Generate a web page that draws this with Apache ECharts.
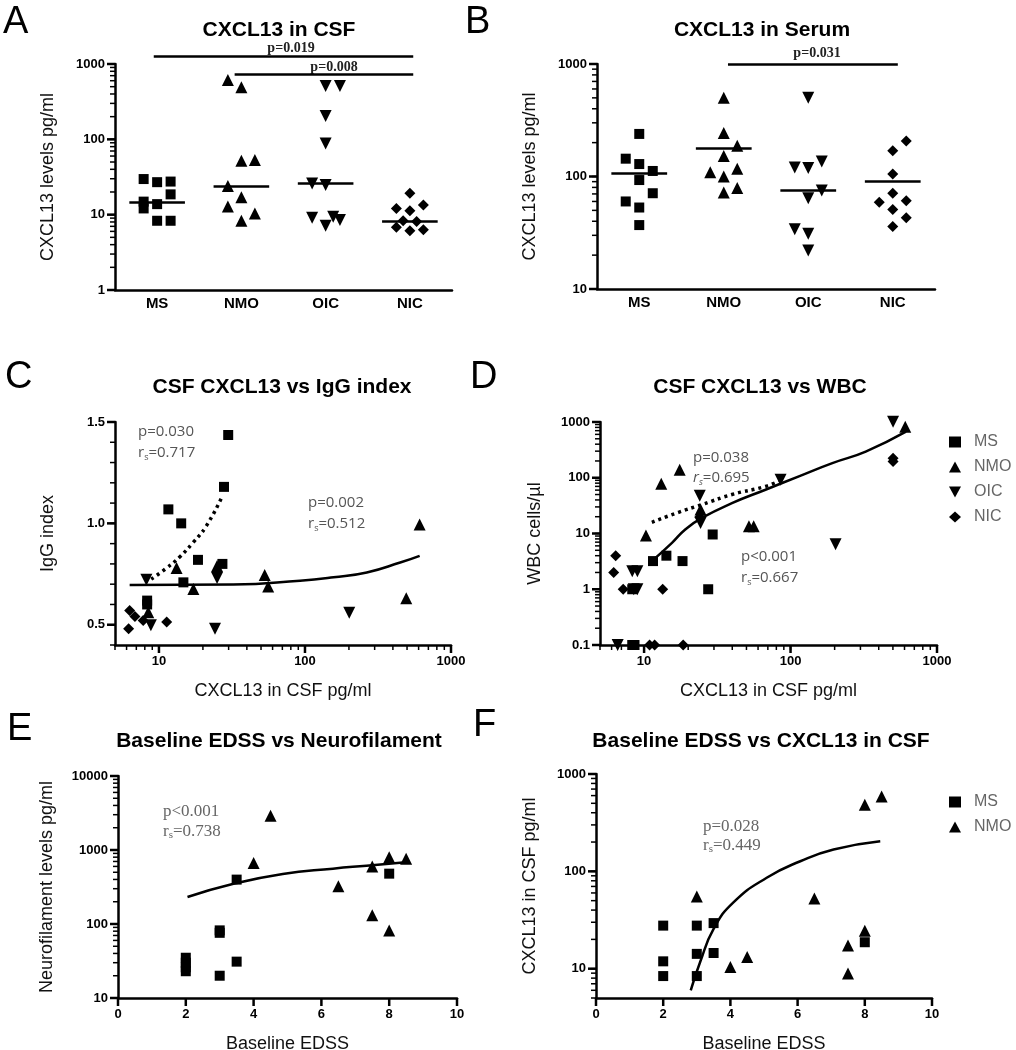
<!DOCTYPE html>
<html>
<head>
<meta charset="utf-8" />
<title>CXCL13</title>
<script src="https://cdn.jsdelivr.net/npm/echarts@6/dist/echarts.min.js"></script>
<style>
	html, body { margin: 0; padding: 0; background: #fff; }
	#main { width: 1016px; height: 1050px; }
</style>
</head>
<body>
<div id="main"></div>
<script>
// groups on the category axes
var groups = ['MS', 'NMO', 'OIC', 'NIC'];

// A: CXCL13 in CSF, [jitter, pg/ml]
var csfMS  = [[-0.16, 29.7], [0, 27], [0.16, 27.5], [0.16, 18.6], [-0.16, 14.9], [-0.16, 12.1], [0, 13.8], [0, 8.3], [0.16, 8.3]];
var csfNMO = [[-0.16, 613], [0, 490], [0, 52], [0.16, 53], [-0.16, 24], [0, 17], [-0.16, 12.8], [0.16, 10.4], [0, 8.3]];
var csfOIC = [[0, 510], [0.17, 510], [0, 204], [0, 88], [-0.16, 26], [0, 24.8], [-0.16, 9.1], [0.09, 9.4], [0.17, 8.5], [0, 7.1]];
var csfNIC = [[0, 19.2], [-0.16, 12.1], [0.16, 13.4], [0, 11.3], [-0.08, 8.3], [0.08, 8.1], [-0.16, 6.8], [0, 6.1], [0.16, 6.3]];
var csfMedian = [14.7, 24, 25.8, 8.2];
// significance bars [from, to, level]
var csfBars = [[0.46, 3.54, 1277], [1.42, 3.54, 736]];

// B: CXCL13 in serum
var serMS  = [[0, 239], [-0.16, 144], [0, 129], [0.16, 112], [0, 93], [0.16, 71], [-0.16, 60], [0, 53], [0, 37]];
var serNMO = [[0, 502], [0, 243], [0.16, 188], [0, 152], [0.16, 117], [-0.16, 109], [0, 100], [0.16, 79], [0, 72]];
var serOIC = [[0, 502], [-0.16, 120], [0, 119], [0.16, 136], [0.16, 75], [0, 64], [-0.16, 34], [0, 31], [0, 22]];
var serNIC = [[0.16, 207], [0, 169], [0, 105], [0, 71], [-0.16, 59], [0.16, 61], [0, 51], [0.16, 43], [0, 36]];
var serMedian = [106, 180, 75, 90];
var serBars = [[1.55, 3.56, 1000]];

// C: CSF CXCL13 vs IgG index
var igMS  = [[29.8, 1.436], [27.9, 1.18], [11.6, 1.069], [14.2, 1.0], [18.5, 0.82], [27.2, 0.80], [14.7, 0.709], [8.3, 0.619], [8.3, 0.60]];
var igNMO = [[610, 0.995], [13.2, 0.78], [25, 0.79], [53, 0.745], [56, 0.688], [17.2, 0.676], [494, 0.631], [8.45, 0.562]];
var igOIC = [[8.2, 0.722], [25, 0.73], [201, 0.559], [24.2, 0.48], [8.8, 0.497]];
var igNIC = [[6.3, 0.57], [6.85, 0.54], [7.8, 0.521], [11.3, 0.513], [6.2, 0.48]];
var igFitMS  = [[8.85, 0.725], [11.2, 0.778], [13.9, 0.835], [17.1, 0.905], [21.1, 0.987], [26.8, 1.126]];
var igFitAll = [[6.3, 0.696], [32.2, 0.698], [92.5, 0.717], [157, 0.734], [265, 0.758], [449, 0.807], [610, 0.84]];
var igTicks = [0.4, 0.5, 0.6, 0.7, 0.8, 0.9, 1.0, 1.1, 1.2, 1.3, 1.4, 1.5];
var igLabels = [0.5, 1.0, 1.5];

// D: CSF CXCL13 vs WBC
var wbcMS  = [[11.5, 3.2], [14.2, 4.0], [18.3, 3.2], [29.4, 9.6], [27.4, 1.0], [8.3, 1.0], [8.3, 0.1], [8.6, 0.1]];
var wbcNMO = [[13.1, 78], [17.5, 139], [10.3, 9.2], [52, 13.5], [56, 13.5], [607, 826], [24.3, 26.9]];
var wbcOIC = [[501, 1014], [24, 47.5], [24.3, 15.5], [203, 6.4], [8.3, 2.1], [9.0, 2.1], [8.5, 1.0], [9.0, 1.0], [6.6, 0.1], [85.5, 92]];
var wbcNIC = [[6.4, 4.0], [6.2, 2.0], [7.2, 1.0], [13.4, 1.0], [501, 224], [501, 195], [24, 19.8], [10.9, 0.1], [11.8, 0.1], [18.5, 0.1]];
var wbcFitA = [[11.3, 15.9], [17.2, 24], [24.8, 33], [39.8, 50], [67.4, 70], [87, 92]];
var wbcFitB = [[11.6, 3.4], [15.5, 6.8], [19.1, 11.8], [24.8, 19], [39.8, 35], [67.4, 61], [114, 106], [193, 183], [326, 295], [614, 672]];

// E: baseline EDSS vs neurofilament
var nfMS  = [[2, 23], [2, 26], [2, 30], [2, 35], [3, 82], [3, 76], [3, 20], [3.5, 398], [3.5, 31], [8, 479]];
var nfNMO = [[4.5, 2910], [4, 667], [6.5, 323], [7.5, 600], [8, 795], [8.5, 760], [7.5, 131], [8, 82]];
var nfFit = [[2.05, 232], [3.38, 347], [4.86, 474], [6.34, 560], [7.33, 614], [8.57, 689]];

// F: baseline EDSS vs CXCL13 in CSF
var edMS  = [[2, 27.7], [2, 11.9], [2, 8.4], [3, 27.7], [3, 14.2], [3, 8.4], [3.5, 29.4], [3.5, 14.5], [8, 18.7]];
var edNMO = [[8.5, 587], [8, 483], [3, 55], [6.5, 52.6], [8, 24.6], [7.5, 17.3], [4.5, 13.2], [4, 10.4], [7.5, 8.9]];
var edFit = [[2.82, 6.0], [3.1, 11.7], [3.5, 25.6], [4.09, 48], [5.08, 86], [6.08, 127], [7.07, 168], [8.46, 204]];
var edssTicks = [0, 2, 4, 6, 8, 10];

var FONT = 'Liberation Sans';

var symbols = {
	MS: { symbol: 'rect', rotate: 0, size: 10 },
	NMO: { symbol: 'triangle', rotate: 0, size: 12 },
	OIC: { symbol: 'triangle', rotate: 180, size: 12 },
	NIC: { symbol: 'diamond', rotate: 0, size: 11 }
};

function fmt(v) {
	return String(+(+v).toPrecision(6));
}

// decade values and 1..9 steps inside [min, max]
function majors(min, max) {
	var out = [];
	for (var e = -3; e <= 6; e++) {
		var v = +Math.pow(10, e).toPrecision(6);
		if (v >= min * 0.999 && v <= max * 1.001) out.push(v);
	}
	return out;
}
function minors(min, max) {
	var out = [];
	for (var e = -3; e <= 6; e++) {
		for (var k = 1; k < 10; k++) {
			var v = +(k * Math.pow(10, e)).toPrecision(6);
			if (v >= min * 0.999 && v <= max * 1.001) out.push(v);
		}
	}
	return out;
}

function axisBase(extra) {
	var a = {
		axisLine: { onZero: false, lineStyle: { color: '#000', width: 2.5 } },
		axisTick: { show: false },
		splitLine: { show: false },
		axisLabel: { color: '#000', fontWeight: 'bold', fontSize: 13, fontFamily: FONT, formatter: fmt, margin: 10 },
		nameTextStyle: { color: '#111', fontSize: 18, fontFamily: FONT },
		nameLocation: 'middle'
	};
	for (var k in extra) a[k] = extra[k];
	return a;
}

function logAxis(grid, min, max, extra) {
	var lab = { color: '#000', fontWeight: 'bold', fontSize: 13, fontFamily: FONT, formatter: fmt, margin: 10,
		customValues: majors(min, max) };
	var a = axisBase({ gridIndex: grid, type: 'log', min: min, max: max, axisLabel: lab });
	for (var k in extra) a[k] = extra[k];
	return a;
}

// tick marks drawn through the axes' own scales; anchor = the other axis' minimum
function ticks(xi, yi, dim, values, anchor, len, w) {
	return {
		type: 'custom', xAxisIndex: xi, yAxisIndex: yi, silent: true, clip: false, z: 4,
		data: values.map(function (v) { return dim === 'y' ? [anchor, v] : [v, anchor]; }),
		renderItem: function (params, api) {
			var p = api.coord([api.value(0), api.value(1)]);
			var shape = dim === 'y'
				? { x1: p[0] - len, y1: p[1], x2: p[0], y2: p[1] }
				: { x1: p[0], y1: p[1], x2: p[0], y2: p[1] + len };
			return { type: 'line', shape: shape, style: { stroke: '#000', lineWidth: w } };
		}
	};
}
function logTicks(xi, yi, dim, min, max, anchor) {
	return [
		ticks(xi, yi, dim, minors(min, max), anchor, 5, 1.5),
		ticks(xi, yi, dim, majors(min, max), anchor, 8, 2.5)
	];
}

function scatter(name, data, xi, yi) {
	var s = symbols[name];
	return {
		type: 'scatter', name: name, xAxisIndex: xi, yAxisIndex: yi,
		data: data, symbol: s.symbol, symbolRotate: s.rotate, symbolSize: s.size,
		itemStyle: { color: '#000', opacity: 1 }, clip: false, z: 3
	};
}

function jittered(arr, gi) {
	return arr.map(function (p) { return [gi + 0.5 + p[0], p[1]]; });
}

function segLines(segs, xi, yi) {
	return {
		type: 'lines', coordinateSystem: 'cartesian2d', xAxisIndex: xi, yAxisIndex: yi,
		polyline: false, silent: true, clip: false,
		lineStyle: { color: '#000', width: 2.5, opacity: 1, curveness: 0 },
		data: segs
	};
}
function medianLines(meds, xi, yi) {
	return segLines(meds.map(function (m, i) {
		return { coords: [[i + 0.5 - 0.33, m], [i + 0.5 + 0.33, m]] };
	}), xi, yi);
}
function barLines(bars, xi, yi) {
	return segLines(bars.map(function (b) { return { coords: [[b[0], b[2]], [b[1], b[2]]] }; }), xi, yi);
}

function fit(data, xi, yi, dotted) {
	return {
		type: 'line', xAxisIndex: xi, yAxisIndex: yi, data: data, smooth: true,
		showSymbol: false, silent: true, z: 2,
		lineStyle: { color: '#000', width: dotted ? 3.5 : 2.5, type: dotted ? [3, 4] : 'solid' }
	};
}

function txt(x, y, text, style) {
	var st = {
		text: text, fill: '#000', fontFamily: FONT, fontSize: 15,
		align: 'left', verticalAlign: 'middle', textAlign: 'left', textVerticalAlign: 'middle'
	};
	for (var k in style) st[k] = style[k];
	return { type: 'text', x: x, y: y, style: st, silent: true };
}

function rs(x, y, val, family, size, color, italic) {
	return txt(x, y, '{r|r}{s|s}=' + val, {
		fontFamily: family, fontSize: size, fill: color, lineHeight: 18,
		rich: {
			r: { fontFamily: family, fontSize: size, fill: color, fontStyle: italic ? 'italic' : 'normal', lineHeight: 18 },
			s: { fontFamily: family, fontSize: Math.round(size * 0.62), fill: color, fontStyle: italic ? 'italic' : 'normal', verticalAlign: 'bottom', lineHeight: 18 }
		}
	});
}

var titleStyle = { fontSize: 21, fontWeight: 'bold', align: 'center', textAlign: 'center' };
var letterStyle = { fontSize: 38 };
var pSans = { fontFamily: 'Open Sans', fontSize: 15, fill: '#555' };
var pSerif = { fontFamily: 'Liberation Serif', fontSize: 17, fill: '#666' };
var pBold = { fontFamily: 'Liberation Serif', fontSize: 14, fontWeight: 'bold', fill: '#222', align: 'center', textAlign: 'center' };

var downTri = 'path://M0,0L12,0L6,11Z';
var legendText = { color: '#666', fontSize: 16, fontFamily: FONT, padding: [0, 0, 0, 8] };

var catLabel = { color: '#000', fontWeight: 'bold', fontSize: 15, fontFamily: FONT, margin: 6 };

var option = {
	animation: false,
	backgroundColor: '#fff',
	textStyle: { fontFamily: FONT },
	grid: [
		{ left: 115, top: 64, width: 337, height: 226, outerBoundsMode: 'none' },
		{ left: 597, top: 64, width: 338, height: 225, outerBoundsMode: 'none' },
		{ left: 115, top: 422, width: 336, height: 223, outerBoundsMode: 'none' },
		{ left: 600, top: 422, width: 337, height: 223, outerBoundsMode: 'none' },
		{ left: 118, top: 776, width: 339, height: 222, outerBoundsMode: 'none' },
		{ left: 596, top: 774, width: 336, height: 224, outerBoundsMode: 'none' }
	],
	xAxis: [
		axisBase({ gridIndex: 0, type: 'category', data: groups, boundaryGap: true, axisLabel: catLabel }),
		{ gridIndex: 0, type: 'value', min: 0, max: 4, show: false },
		axisBase({ gridIndex: 1, type: 'category', data: groups, boundaryGap: true, axisLabel: catLabel }),
		{ gridIndex: 1, type: 'value', min: 0, max: 4, show: false },
		logAxis(2, 5, 1000, { name: 'CXCL13 in CSF pg/ml', nameGap: 37 }),
		logAxis(3, 5, 1000, { name: 'CXCL13 in CSF pg/ml', nameGap: 37 }),
		axisBase({ gridIndex: 4, type: 'value', min: 0, max: 10, interval: 2, name: 'Baseline EDSS', nameGap: 37 }),
		axisBase({ gridIndex: 5, type: 'value', min: 0, max: 10, interval: 2, name: 'Baseline EDSS', nameGap: 37 })
	],
	yAxis: [
		logAxis(0, 1, 1000, { name: 'CXCL13 levels pg/ml', nameGap: 58 }),
		logAxis(1, 10, 1000, { name: 'CXCL13 levels pg/ml', nameGap: 58 }),
		axisBase({ gridIndex: 2, type: 'value', min: 0.4, max: 1.5, name: 'IgG index', nameGap: 58,
			axisLabel: { color: '#000', fontWeight: 'bold', fontSize: 13, fontFamily: FONT, margin: 10, customValues: igLabels,
				formatter: function (v) { return (+v).toFixed(1); } } }),
		logAxis(3, 0.1, 1000, { name: 'WBC cells/µl', nameGap: 56 }),
		logAxis(4, 10, 10000, { name: 'Neurofilament levels pg/ml', nameGap: 62 }),
		logAxis(5, 5, 1000, { name: 'CXCL13 in CSF pg/ml', nameGap: 57 })
	],
	legend: [
		{ data: ['MS', 'NMO', { name: 'OIC', icon: downTri }, 'NIC'], orient: 'vertical', left: 944, top: 429,
			itemWidth: 12, itemHeight: 11, itemGap: 9, selectedMode: false, textStyle: legendText },
		{ data: ['MS', 'NMO'], orient: 'vertical', left: 944, top: 789,
			itemWidth: 12, itemHeight: 11, itemGap: 9, selectedMode: false, textStyle: legendText }
	],
	series: [],
	graphic: [
		// panel letters
		txt(3, 23, 'A', letterStyle),
		txt(465, 23, 'B', letterStyle),
		txt(5, 378, 'C', letterStyle),
		txt(470, 378, 'D', letterStyle),
		txt(7, 730, 'E', letterStyle),
		txt(473, 726, 'F', letterStyle),
		// titles
		txt(279, 30, 'CXCL13 in CSF', titleStyle),
		txt(762, 30, 'CXCL13 in Serum', titleStyle),
		txt(282, 387, 'CSF CXCL13 vs IgG index', titleStyle),
		txt(760, 387, 'CSF CXCL13 vs WBC', titleStyle),
		txt(279, 741, 'Baseline EDSS vs Neurofilament', titleStyle),
		txt(761, 741, 'Baseline EDSS vs CXCL13 in CSF', titleStyle),
		// significance labels
		txt(291, 48, 'p=0.019', pBold),
		txt(334, 67, 'p=0.008', pBold),
		txt(817, 53, 'p=0.031', pBold),
		// correlation labels
		txt(138, 432, 'p=0.030', pSans),
		rs(138, 453, '0.717', 'Open Sans', 15, '#555', false),
		txt(308, 503, 'p=0.002', pSans),
		rs(308, 524, '0.512', 'Open Sans', 15, '#555', false),
		txt(693, 458, 'p=0.038', pSans),
		rs(693, 478, '0.695', 'Open Sans', 15, '#555', true),
		txt(741, 557, 'p<0.001', pSans),
		rs(741, 578, '0.667', 'Open Sans', 15, '#555', false),
		txt(163, 812, 'p<0.001', pSerif),
		rs(163, 832, '0.738', 'Liberation Serif', 17, '#666', false),
		txt(703, 827, 'p=0.028', pSerif),
		rs(703, 846, '0.449', 'Liberation Serif', 17, '#666', false)
	]
};

var s = option.series;
// A
[csfMS, csfNMO, csfOIC, csfNIC].forEach(function (arr, gi) { s.push(scatter(groups[gi], jittered(arr, gi), 1, 0)); });
s.push(medianLines(csfMedian, 1, 0));
s.push(barLines(csfBars, 1, 0));
s.push.apply(s, logTicks(1, 0, 'y', 1, 1000, 0));
// B
[serMS, serNMO, serOIC, serNIC].forEach(function (arr, gi) { s.push(scatter(groups[gi], jittered(arr, gi), 3, 1)); });
s.push(medianLines(serMedian, 3, 1));
s.push(barLines(serBars, 3, 1));
s.push.apply(s, logTicks(3, 1, 'y', 10, 1000, 0));
// C
[igMS, igNMO, igOIC, igNIC].forEach(function (arr, gi) { s.push(scatter(groups[gi], arr, 4, 2)); });
s.push(fit(igFitMS, 4, 2, true));
s.push(fit(igFitAll, 4, 2, false));
s.push.apply(s, logTicks(4, 2, 'x', 5, 1000, 0.4));
s.push(ticks(4, 2, 'y', igTicks, 5, 5, 1.5));
s.push(ticks(4, 2, 'y', igLabels, 5, 8, 2.5));
// D
[wbcMS, wbcNMO, wbcOIC, wbcNIC].forEach(function (arr, gi) { s.push(scatter(groups[gi], arr, 5, 3)); });
s.push(fit(wbcFitA, 5, 3, true));
s.push(fit(wbcFitB, 5, 3, false));
s.push.apply(s, logTicks(5, 3, 'x', 5, 1000, 0.1));
s.push.apply(s, logTicks(5, 3, 'y', 0.1, 1000, 5));
// E
s.push(scatter('MS', nfMS, 6, 4));
s.push(scatter('NMO', nfNMO, 6, 4));
s.push(fit(nfFit, 6, 4, false));
s.push(ticks(6, 4, 'x', edssTicks, 10, 8, 2.5));
s.push.apply(s, logTicks(6, 4, 'y', 10, 10000, 0));
// F
s.push(scatter('MS', edMS, 7, 5));
s.push(scatter('NMO', edNMO, 7, 5));
s.push(fit(edFit, 7, 5, false));
s.push(ticks(7, 5, 'x', edssTicks, 5, 8, 2.5));
s.push.apply(s, logTicks(7, 5, 'y', 5, 1000, 0));

var myChart = echarts.init(document.getElementById('main'), null, { renderer: 'canvas' });
myChart.setOption(option);
</script>
</body>
</html>
